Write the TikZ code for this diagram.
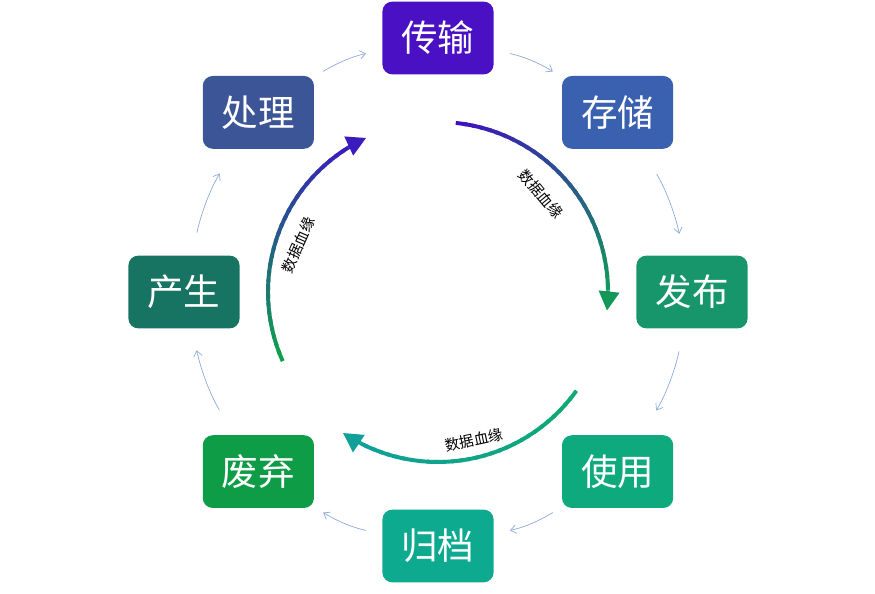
\documentclass[tikz,border=0pt]{standalone}
\usepackage{fontspec}
\setmainfont{Noto Sans CJK SC}
\usetikzlibrary{arrows.meta}
\definecolor{transC}{HTML}{4911C3}
\definecolor{storeC}{HTML}{3A60B0}
\definecolor{publishC}{HTML}{17966C}
\definecolor{useC}{HTML}{0EAA7D}
\definecolor{archiveC}{HTML}{0EAA90}
\definecolor{discardC}{HTML}{0E9D46}
\definecolor{createC}{HTML}{177463}
\definecolor{processC}{HTML}{3C5597}
\definecolor{flowC}{HTML}{8FAADC}
\definecolor{arcP}{HTML}{4010C0}
\definecolor{arcG}{HTML}{14985A}
\definecolor{arcGb}{HTML}{10A874}
\definecolor{arcT}{HTML}{10A099}
\definecolor{arcGc}{HTML}{0FA04E}
\definecolor{arcPc}{HTML}{3A1CBE}
\begin{document}
\begin{tikzpicture}[
        box/.style={rounded corners=0.25cm,minimum width=2.78cm,minimum height=1.82cm,text=white,font=\fontsize{26}{30}\selectfont},
        flow/.style={-{Straight Barb[length=4pt,width=6pt]},draw=flowC,line width=0.5pt},
        lineage/.style={font=\fontsize{10.5}{12}\selectfont}]
        \useasboundingbox (-10.95,-7.55) rectangle (10.925,7.3);
        \node[box,fill=transC] (trans) at (90:6.35) {传输};
        \node[box,fill=storeC] (store) at (45:6.35) {存储};
        \node[box,fill=publishC] (publish) at (0:6.35) {发布};
        \node[box,fill=useC] (use) at (-45:6.35) {使用};
        \node[box,fill=archiveC] (archive) at (-90:6.35) {归档};
        \node[box,fill=discardC] (discard) at (-135:6.35) {废弃};
        \node[box,fill=createC] (create) at (180:6.35) {产生};
        \node[box,fill=processC] (process) at (135:6.35) {处理};
        \draw[flow,shorten <=0.41cm,shorten >=0.26cm] (trans) to[bend left=10] (store);
        \draw[flow,shorten <=0.74cm,shorten >=0.55cm] (store) to[bend left=10] (publish);
        \draw[flow,shorten <=0.58cm,shorten >=0.72cm] (publish) to[bend left=10] (use);
        \draw[flow,shorten <=0.26cm,shorten >=0.41cm] (use) to[bend left=10] (archive);
        \draw[flow,shorten <=0.41cm,shorten >=0.26cm] (archive) to[bend left=10] (discard);
        \draw[flow,shorten <=0.74cm,shorten >=0.55cm] (discard) to[bend left=10] (create);
        \draw[flow,shorten <=0.58cm,shorten >=0.72cm] (create) to[bend left=10] (process);
        \draw[flow,shorten <=0.26cm,shorten >=0.41cm] (process) to[bend left=10] (trans);
        % lineage arcs, colour runs from \ca to \cb
        \foreach \sa/\ea/\ca/\cb in {84/0.5/arcP/arcG, -35.5/-117.2/arcGb/arcT, 204/121.8/arcGc/arcPc}{
            \foreach \i in {0,...,29}{
                \pgfmathsetmacro\a{\sa+(\ea-\sa)*\i/30}
                \pgfmathsetmacro\b{\sa+(\ea-\sa)*min(\i+1.4,30)/30}
                \pgfmathtruncatemacro\p{100*\i/29}
                \draw[line width=2.8pt,draw={\cb!\p!\ca}] (\a:4.25) arc[start angle=\a,end angle=\b,radius=4.25];
            }
            \pgfmathsetmacro\t{\ea-6.8}
            \draw[-{Triangle[length=0.48cm,width=0.5cm]},line width=2.8pt,draw=\cb,fill=\cb] (\ea:4.25) arc[start angle=\ea,end angle=\t,radius=4.25];
        }
        \node[lineage,rotate=-50] (lab1) at (43.6:3.55) {数据血缘};
        \node[lineage,rotate=12] (lab2) at (-76.3:3.8) {数据血缘};
        \node[lineage,rotate=66] (lab3) at (161.4:3.69) {数据血缘};
    \end{tikzpicture}
\end{document}
